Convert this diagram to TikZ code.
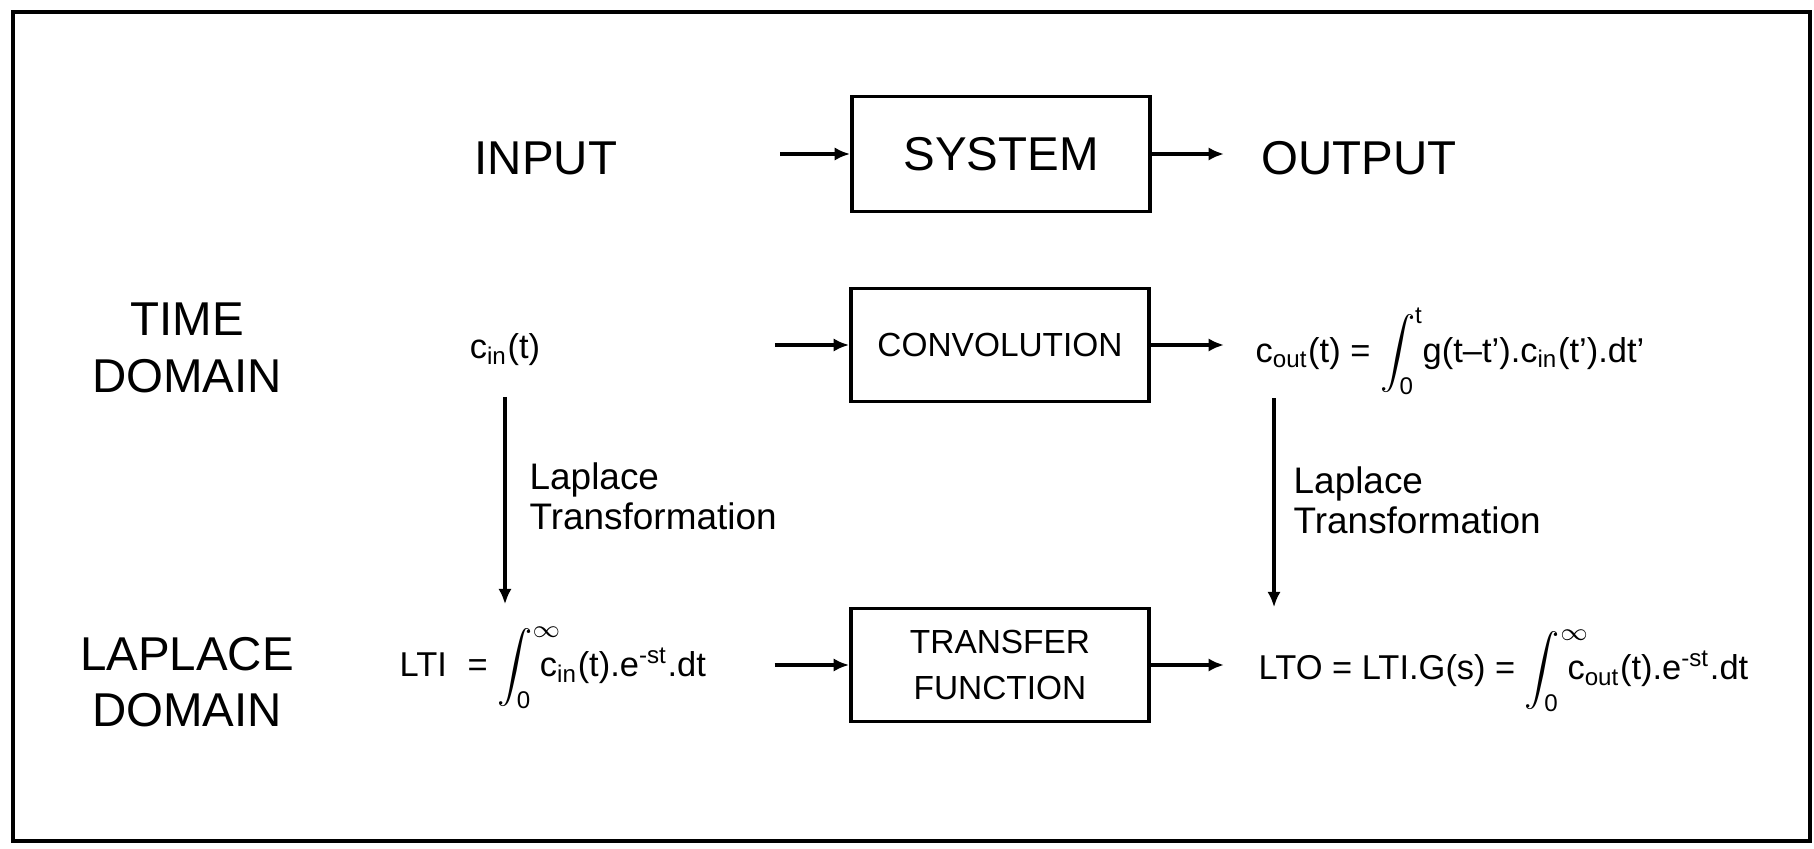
\documentclass[tikz,border=0pt]{standalone}
\usepackage{mathtools}
\usepackage{fontspec}
\setmainfont{Liberation Sans}
\usepackage{tikz}
\usetikzlibrary{arrows.meta,calc}

\newcommand{\sint}[2]{$\displaystyle\int_{\mathrlap{\text{#1}}}^{\mathrlap{#2}}$}

\begin{document}
\begin{tikzpicture}[x=0.01cm,y=-0.01cm,>={Latex[length=4.4pt,width=3.8pt]},
  box/.style={draw,line width=1.05pt,minimum width=2.98cm,minimum height=1.13cm,inner sep=0pt,align=center},
  big/.style={font=\fontsize{13.5}{16}\selectfont,align=center,inner sep=0pt},
  small/.style={font=\fontsize{9.5}{13}\selectfont},
  eq/.style={font=\fontsize{9.8}{12}\selectfont,inner sep=0pt,anchor=west},
  ann/.style={font=\fontsize{10.5}{11.4}\selectfont,align=left,inner sep=0pt,anchor=west},
  link/.style={->,line width=0.95pt}]
  \useasboundingbox (0,0) rectangle (1814,849);
  \draw[line width=1.4pt] (13,12) rectangle (1810,841);
  % ---- system row ----
  \node[big] (input) at (546,158) {INPUT};
  \node[box,big,minimum height=1.15cm] (system) at (1001,154) {SYSTEM};
  \node[big,anchor=west] (output) at (1261,158) {OUTPUT};
  \draw[link,shorten <=1.62cm] (system.west -| input.east) -- (system.west);
  \draw[link,shorten >=0.37cm] (system.east) -- (system.east -| output.west);
  % ---- time domain ----
  \node[big] (timedom) at (187,348) {TIME\\DOMAIN};
  \node[eq,anchor=center] (cin) at (505,350) {c\textsubscript{in}(t)};
  \node[box,small] (conv) at (1000,345) {CONVOLUTION};
  \node[eq] (cout) at (1255,351)
    {c\textsubscript{out}(t) = \sint{0}{\text{t}}\,g(t--t').c\textsubscript{in}(t').dt'};
  \draw[link,shorten <=2.34cm] (conv.west -| cin.east) -- (conv.west);
  \draw[link,shorten >=0.31cm] (conv.east) -- (conv.east -| cout.west);
  % ---- laplace domain ----
  \node[big] (lapdom) at (187,682) {LAPLACE\\DOMAIN};
  \node[eq] (lti) at (399,668)
    {LTI\hspace{0.6em}= \sint{0}{\infty}\,c\textsubscript{in}(t).e\textsuperscript{-st}.dt};
  \node[box,small] (transfer) at (1000,665) {TRANSFER\\FUNCTION};
  \node[eq] (lto) at (1258,671)
    {LTO = LTI.G(s) = \sint{0}{\infty}\,c\textsubscript{out}(t).e\textsuperscript{-st}.dt};
  \draw[link,shorten <=0.68cm] (transfer.west -| lti.east) -- (transfer.west);
  \draw[link,shorten >=0.34cm] (transfer.east) -- (transfer.east -| lto.west);
  % ---- transformations ----
  \coordinate (rtop) at ([xshift=0.19cm]cout.south west);
  \draw[link,shorten <=0.3cm,shorten >=0.22cm] (cin.south) -- (cin.south |- lti.north)
    node[ann,midway,right=0.23cm] {Laplace\\Transformation};
  \draw[link,shorten <=0.03cm,shorten >=0.22cm] (rtop) -- (rtop |- lto.north)
    node[ann,midway,right=0.18cm,yshift=0.12cm] {Laplace\\Transformation};
\end{tikzpicture}
\end{document}
